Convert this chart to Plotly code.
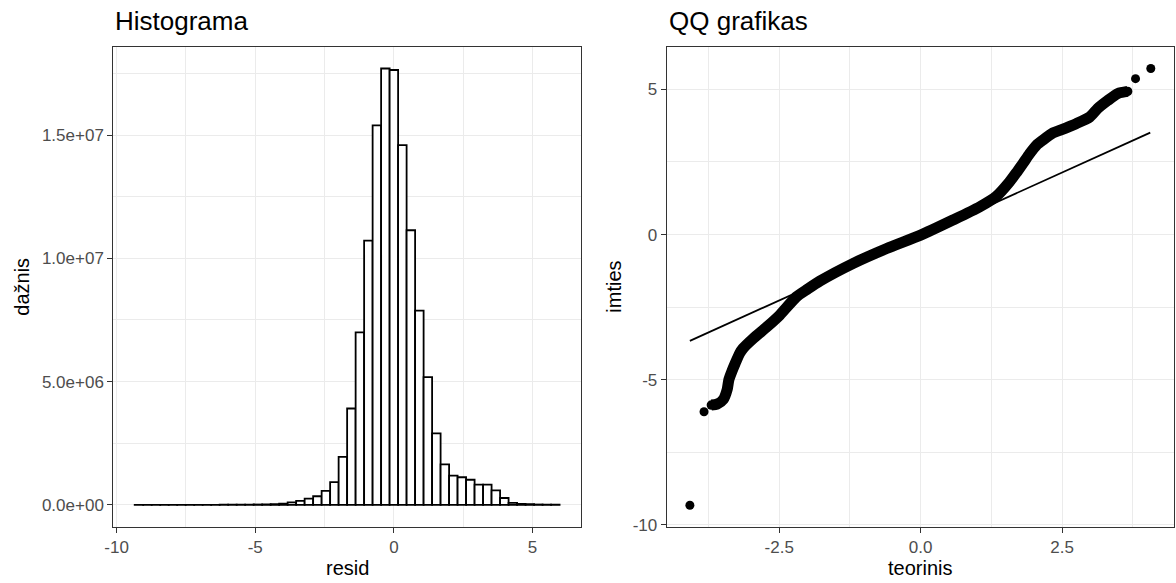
import plotly.graph_objects as go

# ---------------- data ----------------
# Histogram of residuals (50 bins, ggplot-style binning)
BIN_WIDTH = 0.3065
FIRST_BIN_CENTER = -9.195
resid_counts = [
    2000, 1000, 1000, 1000, 1000, 1000, 2000, 2000, 3000, 4000,
    5000, 6000, 8000, 10000, 15000, 20000, 30000,
    50000, 100000, 160000, 250000, 350000, 570000, 920000, 1950000, 3910000,
    7000000, 10720000, 15390000, 17700000, 17640000, 14590000, 11140000, 7880000,
    5180000, 2900000, 1640000, 1190000, 1120000, 1020000, 820000, 820000,
    590000, 280000, 80000, 40000, 30000, 15000, 10000, 10000,
]
bin_centers = [FIRST_BIN_CENTER + i * BIN_WIDTH for i in range(len(resid_counts))]

hist_x_tickvals = [-10, -5, 0, 5]
hist_x_ticktext = ["-10", "-5", "0", "5"]
hist_y_tickvals = [0, 5e6, 1e7, 1.5e7]
hist_y_ticktext = ["0.0e+00", "5.0e+06", "1.0e+07", "1.5e+07"]

# QQ plot: dense band of points (theoretical, sample)
qq_theo = [-3.70, -3.60, -3.49, -3.42, -3.39, -3.34, -3.28, -3.20, -3.14, -2.96,
           -2.72, -2.49, -2.20, -2.00, -1.78, -1.19, -0.60, 0.00, 0.57, 1.04,
           1.34, 1.57, 1.70, 1.81, 1.93, 2.05, 2.16, 2.34, 2.46, 2.75,
           2.99, 3.13, 3.31, 3.49, 3.66]
qq_sample = [-5.87, -5.84, -5.68, -5.33, -4.99, -4.72, -4.44, -4.09, -3.92, -3.58,
             -3.18, -2.77, -2.15, -1.88, -1.60, -0.99, -0.48, -0.02, 0.50, 0.95,
             1.32, 1.81, 2.15, 2.45, 2.79, 3.08, 3.25, 3.50, 3.59, 3.82,
             4.05, 4.34, 4.62, 4.86, 4.93]
# isolated extreme points
qq_out_theo = [-4.08, -3.83, 3.80, 4.07]
qq_out_sample = [-9.32, -6.10, 5.37, 5.72]
# reference line (qq line)
qq_line_x = [-4.08, 4.06]
qq_line_y = [-3.66, 3.51]

qq_x_tickvals = [-2.5, 0, 2.5]
qq_x_ticktext = ["-2.5", "0.0", "2.5"]
qq_y_tickvals = [-10, -5, 0, 5]
qq_y_ticktext = ["-10", "-5", "0", "5"]

# ---------------- figure ----------------
W, H = 1176, 583
FONT = "Liberation Sans, Arial, Helvetica, sans-serif"
GRID = "#EBEBEB"
AXC = "#333333"


def px_x(p):
    return p / W


def px_y(p):
    return (H - p) / H


fig = go.Figure()

fig.add_trace(go.Bar(
    x=bin_centers, y=resid_counts, width=BIN_WIDTH,
    marker=dict(color="white", line=dict(color="black", width=1.8)),
    xaxis="x", yaxis="y", hoverinfo="x+y",
))

fig.add_trace(go.Scatter(
    x=qq_line_x, y=qq_line_y, mode="lines",
    line=dict(color="black", width=1.8),
    xaxis="x2", yaxis="y2",
))
fig.add_trace(go.Scatter(
    x=qq_theo, y=qq_sample, mode="lines+markers",
    line=dict(color="black", width=11, shape="spline", smoothing=0.6),
    marker=dict(color="black", size=9.5),
    xaxis="x2", yaxis="y2",
))
fig.add_trace(go.Scatter(
    x=qq_out_theo, y=qq_out_sample, mode="markers",
    marker=dict(color="black", size=9),
    xaxis="x2", yaxis="y2",
))

P1 = (113.3, 581.0)
P2 = (666.7, 1174.0)
PT, PB = 46.7, 526.7

common = dict(
    showline=True, linecolor=AXC, linewidth=1.1, mirror=True,
    ticks="outside", ticklen=5, tickcolor=AXC, tickwidth=1.1,
    showgrid=True, gridcolor=GRID, gridwidth=1.1, zeroline=False,
    tickfont=dict(family=FONT, size=17, color="#4D4D4D"),
    tickmode="array", automargin=False,
)

fig.update_layout(
    width=W, height=H,
    margin=dict(l=0, r=0, t=0, b=0, autoexpand=False),
    paper_bgcolor="white", plot_bgcolor="white",
    showlegend=False,
    font=dict(family=FONT),
    xaxis=dict(domain=[px_x(P1[0]), px_x(P1[1])], anchor="y",
               range=[-10.12, 6.75], tickvals=hist_x_tickvals, ticktext=hist_x_ticktext,
               minor=dict(tickvals=[-7.5, -2.5, 2.5], showgrid=True, gridcolor=GRID, gridwidth=0.55, ticks=""),
               **common),
    yaxis=dict(domain=[px_y(PB), px_y(PT)], anchor="x",
               range=[-0.885e6, 18.585e6], tickvals=hist_y_tickvals, ticktext=hist_y_ticktext,
               minor=dict(tickvals=[2.5e6, 7.5e6, 1.25e7, 1.75e7], showgrid=True, gridcolor=GRID, gridwidth=0.55, ticks=""),
               **common),
    xaxis2=dict(domain=[px_x(P2[0]), px_x(P2[1])], anchor="y2",
                range=[-4.49, 4.48], tickvals=qq_x_tickvals, ticktext=qq_x_ticktext,
                minor=dict(tickvals=[-3.75, -1.25, 1.25, 3.75], showgrid=True, gridcolor=GRID, gridwidth=0.55, ticks=""),
                **common),
    yaxis2=dict(domain=[px_y(PB), px_y(PT)], anchor="x2",
                range=[-10.06, 6.47], tickvals=qq_y_tickvals, ticktext=qq_y_ticktext,
                minor=dict(tickvals=[-7.5, -2.5, 2.5], showgrid=True, gridcolor=GRID, gridwidth=0.55, ticks=""),
                **common),
)

ann = []


def add_text(text, x, y, size, xanchor="center", angle=0, color="black"):
    ann.append(dict(text=text, x=px_x(x), y=px_y(y), xref="paper", yref="paper",
                    showarrow=False, xanchor=xanchor, yanchor="middle",
                    textangle=angle, font=dict(family=FONT, size=size, color=color)))


add_text("Histograma", P1[0], 21, 26, xanchor="left")
add_text("QQ grafikas", P2[0], 21, 26, xanchor="left")
add_text("resid", (P1[0] + P1[1]) / 2, 568, 20)
add_text("teorinis", (P2[0] + P2[1]) / 2, 568, 20)
add_text("dažnis", 22, (PT + PB) / 2, 20, angle=-90)
add_text("imties", 614, (PT + PB) / 2, 20, angle=-90)
fig.update_layout(annotations=ann)

fig.write_html(
    "out.html",
    config={"displayModeBar": False},
    post_script="document.body.style.margin='0';document.body.style.padding='0';"
                "document.body.style.overflow='hidden';",
)
